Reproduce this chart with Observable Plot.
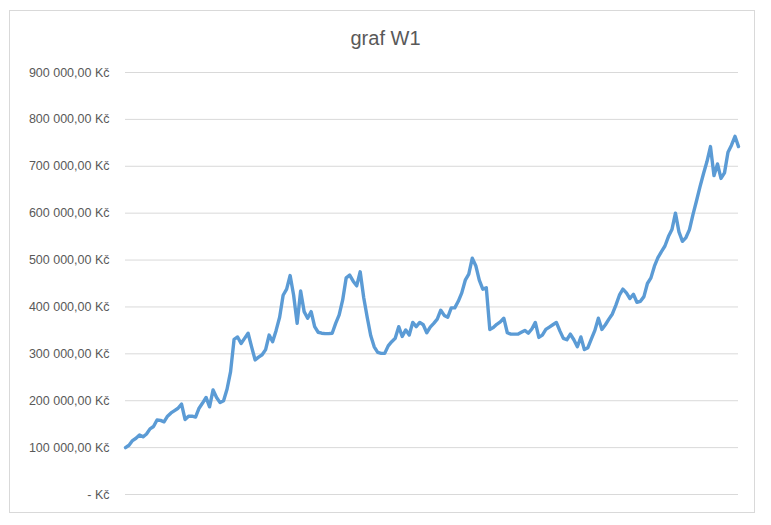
<!DOCTYPE html>
<html><head><meta charset="utf-8">
<script src="https://cdn.jsdelivr.net/npm/d3@7"></script>
<script src="https://cdn.jsdelivr.net/npm/@observablehq/plot@0.6"></script>
<style>
body{margin:0;background:#fff;}
#wrap{position:relative;width:771px;height:525px;font-family:"Liberation Sans",Arial,sans-serif;}
#frame{position:absolute;left:9px;top:10px;width:746px;height:503px;border:1px solid #d9d9d9;box-sizing:border-box;}
#chart{position:absolute;left:0;top:0;}
#title{position:absolute;left:0;width:771px;top:27px;text-align:center;font-size:20px;color:#595959;}
</style></head>
<body><div id="wrap"><div id="frame"></div><div id="chart"></div><div id="title">graf W1</div></div>
<script>
const chartTitle = "graf W1";
// values in thousands of Kč
const valuesK = [
100,105,115,120,127,123,129,140,145,159,158,155,167,174,179,184,193,160,167,167,
165,184,195,207,187,223,207,196,200,225,262,331,336,322,333,344,315,287,293,298,
309,340,326,350,378,425,438,467,425,365,434,390,376,390,358,346,344,343,343,344,
365,383,415,462,468,455,445,475,420,378,339,315,303,301,301,317,326,333,358,337,
351,340,367,358,367,362,345,357,365,374,393,382,378,398,398,412,430,457,470,504,
488,457,438,441,352,356,363,368,376,345,342,342,342,346,350,344,353,367,335,340,
352,357,362,367,349,333,330,342,330,315,336,309,313,332,350,376,352,362,374,385,
404,425,438,430,418,427,410,412,422,450,462,487,505,518,530,550,565,600,560,540,
548,565,597,626,656,684,710,742,680,705,674,686,730,745,764,742
];
const yTicks = [0,100000,200000,300000,400000,500000,600000,700000,800000,900000];

const data = valuesK.map((v,i)=>({t:i, value:v*1000}));
const loc = d3.formatLocale({decimal:",", thousands:"\u00a0", grouping:[3], currency:["","\u00a0Kč"]});
const fmtNum = loc.format(",.2f");
const fmt = v => v === 0 ? "-\u00a0Kč" : fmtNum(v) + "\u00a0Kč";

document.getElementById("title").textContent = chartTitle;

const plot = Plot.plot({
  width: 771,
  height: 525,
  marginLeft: 125,
  marginRight: 33,
  marginTop: 72,
  marginBottom: 31,
  style: {fontFamily: "'Liberation Sans', Arial, sans-serif", fontSize: "12px", color: "#595959", background: "transparent"},
  x: {domain: [0, valuesK.length - 1], axis: null},
  y: {domain: [0, 900000]},
  marks: [
    Plot.ruleY(yTicks, {stroke: "#d9d9d9", strokeWidth: 1, strokeOpacity: 1}),
    Plot.axisY({ticks: yTicks, tickFormat: fmt, tickSize: 0, tickPadding: 16, label: null, fontSize: 12.5, fill: "#595959"}),
    Plot.lineY(data, {x: "t", y: "value", stroke: "#5b9bd5", strokeWidth: 3.4, strokeLinejoin: "round", strokeLinecap: "round"})
  ]
});
document.getElementById("chart").appendChild(plot);
</script>
</body></html>
